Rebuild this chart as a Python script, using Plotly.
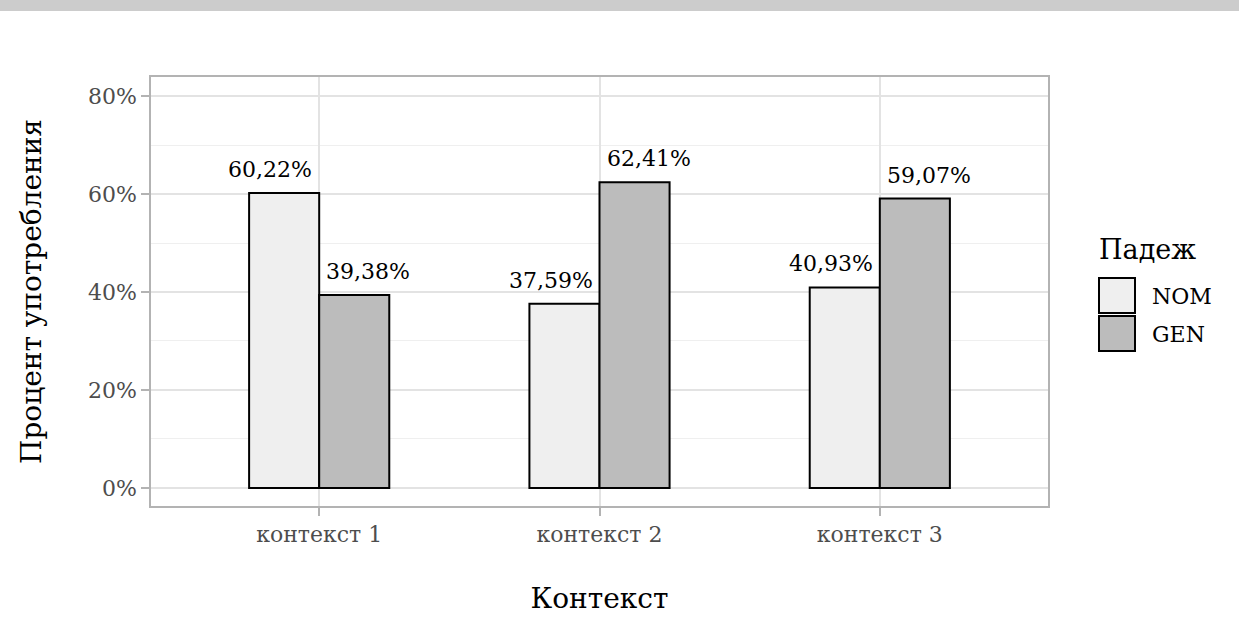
import plotly.graph_objects as go

# Share of use by context and case
contexts = ["контекст 1", "контекст 2", "контекст 3"]
cases = ["NOM", "GEN"]
nom_pct = [60.22, 37.59, 40.93]
gen_pct = [39.38, 62.41, 59.07]

series = {"NOM": nom_pct, "GEN": gen_pct}
fills = {"NOM": "#efefef", "GEN": "#bcbcbc"}
label_shift = {"NOM": -49, "GEN": 49}

FONT = "DejaVu Serif"
W, H = 1239, 628
ML, MR, MT, MB = 151, 191, 77, 122
PW, PH = W - ML - MR, H - MT - MB


def px_x(px):
    return (px - ML) / PW


def px_y(py):
    return (H - MB - py) / PH


def fmt(v):
    return f"{v:.2f}".replace(".", ",") + "%"


fig = go.Figure()
for case in cases:
    fig.add_trace(go.Bar(
        name=case,
        x=contexts,
        y=series[case],
        marker=dict(color=fills[case], line=dict(color="#000000", width=2)),
        showlegend=False,
    ))

annotations = []
for case in cases:
    for ctx, v in zip(contexts, series[case]):
        annotations.append(dict(
            x=ctx, y=v, xref="x", yref="y",
            text=fmt(v), showarrow=False,
            xanchor="center", yanchor="bottom",
            xshift=label_shift[case], yshift=9,
            font=dict(family=FONT, size=22, color="#000000"),
        ))

# Legend: title, keys and labels
annotations.append(dict(
    x=px_x(1097), y=px_y(249), xref="paper", yref="paper",
    text="Падеж", showarrow=False, xanchor="left", yanchor="middle",
    font=dict(family=FONT, size=27, color="#000000"),
))
key_tops = {"NOM": 278, "GEN": 316}
shapes = []
for case in cases:
    top = key_tops[case]
    shapes.append(dict(
        type="rect", xref="paper", yref="paper",
        x0=px_x(1099), x1=px_x(1135), y0=px_y(top + 35), y1=px_y(top),
        fillcolor=fills[case], line=dict(color="#000000", width=2),
    ))
    annotations.append(dict(
        x=px_x(1150), y=px_y(top + 18), xref="paper", yref="paper",
        text=case, showarrow=False, xanchor="left", yanchor="middle",
        font=dict(family=FONT, size=22, color="#000000"),
    ))

# Grey strip across the top of the page
shapes.append(dict(
    type="rect", xref="paper", yref="paper",
    x0=px_x(-5), x1=px_x(W + 5), y0=px_y(11), y1=px_y(-5),
    fillcolor="#cccccc", line=dict(width=0), layer="above",
))

fig.update_layout(
    width=W, height=H,
    margin=dict(l=ML, r=MR, t=MT, b=MB),
    paper_bgcolor="#ffffff", plot_bgcolor="#ffffff",
    barmode="group", bargap=0.5, bargroupgap=0,
    font=dict(family=FONT, color="#000000"),
    annotations=annotations,
    shapes=shapes,
)

fig.update_xaxes(
    range=[-0.6, 2.6],
    showgrid=True, gridcolor="#e3e3e3", gridwidth=1.5,
    showline=True, linecolor="#b3b3b3", linewidth=1.5, mirror=True,
    ticks="outside", ticklen=8, tickwidth=1.5, tickcolor="#b3b3b3",
    tickfont=dict(family=FONT, size=22, color="#4d4d4d"),
    title=dict(text="Контекст", font=dict(family=FONT, size=28, color="#000000"), standoff=42),
    zeroline=False,
)
fig.update_yaxes(
    range=[-3.7, 83.9],
    tickvals=[0, 20, 40, 60, 80],
    ticktext=["0%", "20%", "40%", "60%", "80%"],
    showgrid=True, gridcolor="#e3e3e3", gridwidth=1.5,
    minor=dict(tickvals=[10, 30, 50, 70], showgrid=True, gridcolor="#efefef", gridwidth=1, ticks=""),
    showline=True, linecolor="#b3b3b3", linewidth=1.5, mirror=True,
    ticks="outside", ticklen=8, tickwidth=1.5, tickcolor="#b3b3b3",
    tickfont=dict(family=FONT, size=22, color="#4d4d4d"),
    title=dict(text="Процент употребления", font=dict(family=FONT, size=28, color="#000000"), standoff=38),
    zeroline=False,
)

fig.write_html("out.html")
